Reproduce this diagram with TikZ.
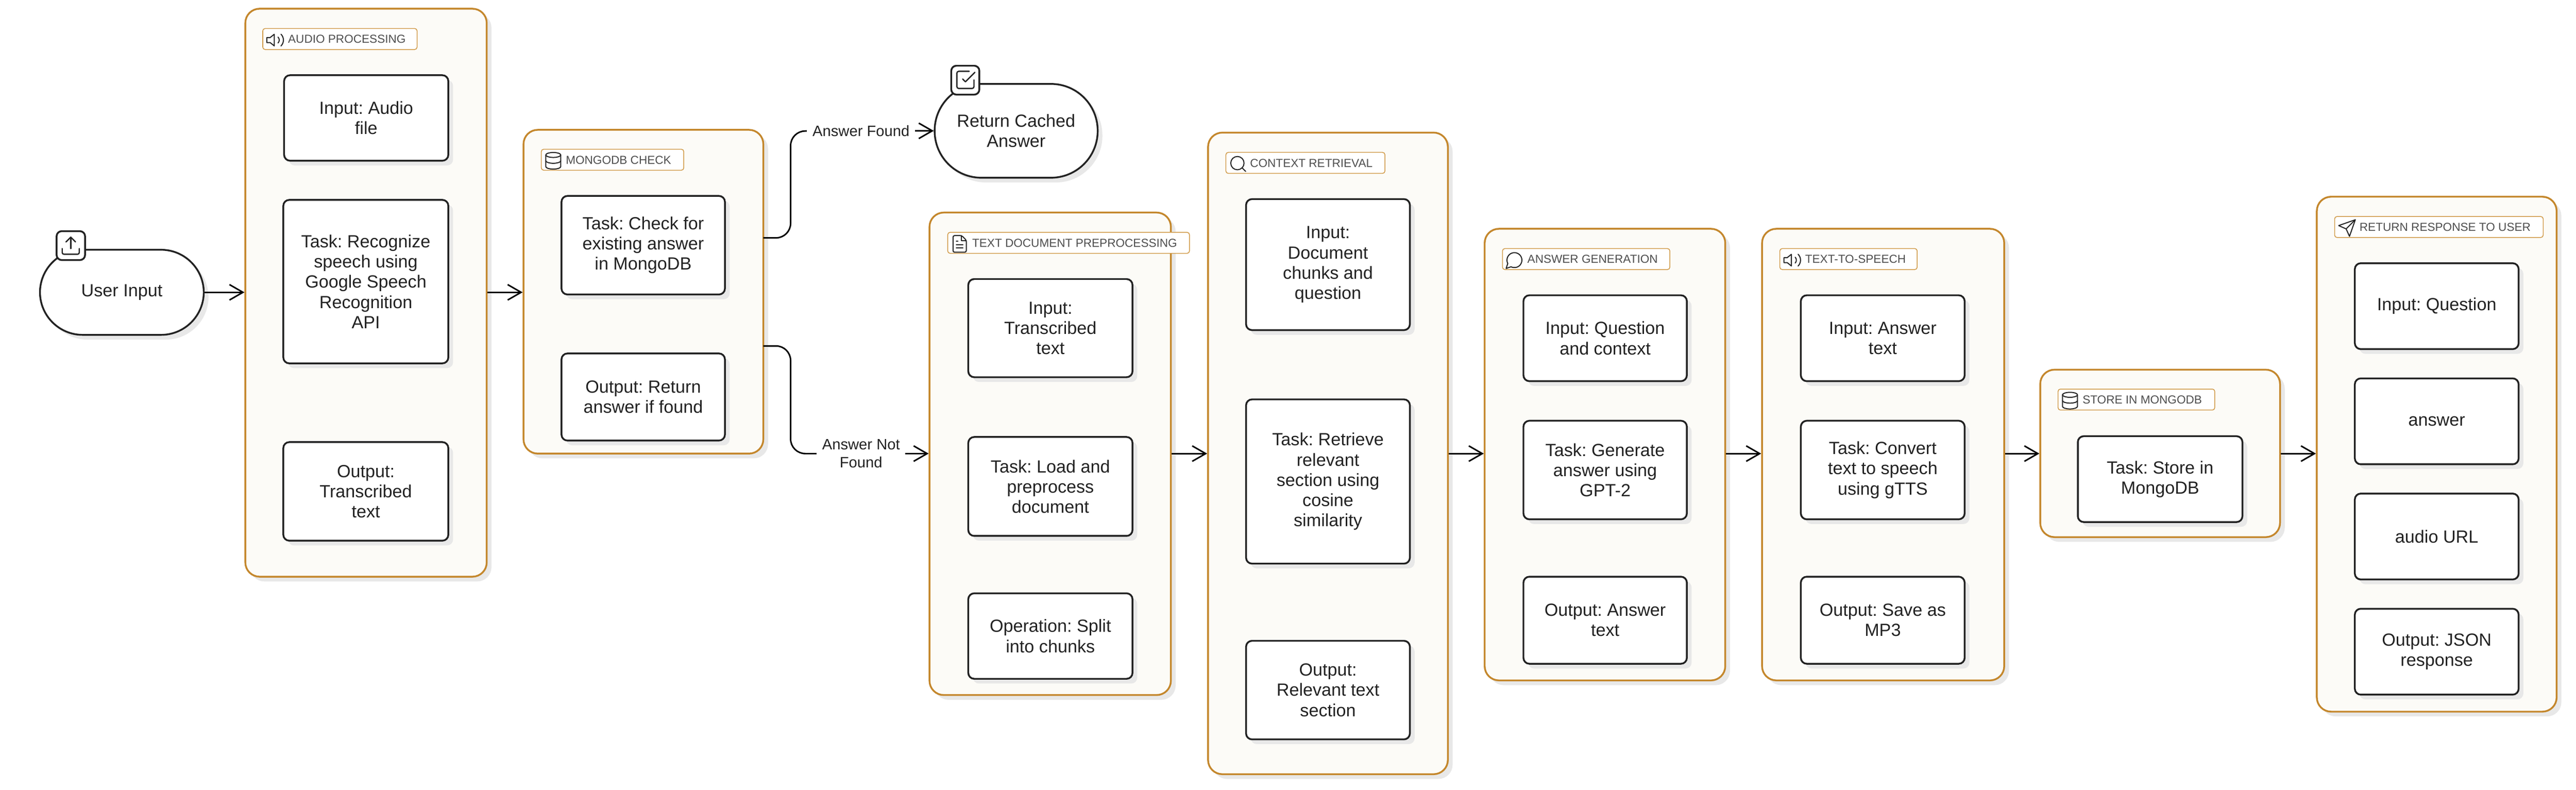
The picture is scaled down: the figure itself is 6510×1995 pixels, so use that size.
\documentclass[tikz,border=0pt]{standalone}
\usepackage{fontspec}
\setmainfont{Liberation Sans}
\usetikzlibrary{arrows.meta,shadows}
\AtBeginDocument{\frenchspacing}
\definecolor{grpfill}{HTML}{FCFBF7}
\definecolor{grpline}{HTML}{C4872C}
\definecolor{badgeline}{HTML}{D09A48}
\definecolor{inkc}{HTML}{222222}
\definecolor{labelc}{HTML}{4D4D4D}
\definecolor{shgrey}{HTML}{E8E8E8}
\tikzset{
  softshadow/.style={drop shadow={shadow xshift=1.2pt,shadow yshift=-1.2pt,fill=shgrey,opacity=1}},
  grp/.style={draw=grpline,line width=.45pt,fill=grpfill,rounded corners=3.6pt,softshadow,inner sep=0pt},
  box/.style={draw=inkc,line width=.45pt,fill=white,rounded corners=1.5pt,softshadow,text=inkc,align=center,inner sep=0pt,
    font=\fontsize{4.45}{5.1}\selectfont},
  stadium/.style={box,rounded corners=#1},
  iconbox/.style={draw=inkc,line width=.45pt,fill=white,rounded corners=1.3pt,inner sep=0pt},
  badge/.style={draw=badgeline,line width=.2pt,fill=white,rounded corners=.6pt,inner sep=0pt},
  badgetext/.style={anchor=west,inner sep=0pt,text=labelc,font=\fontsize{2.94}{3.4}\selectfont},
  edgelabel/.style={fill=white,text=inkc,align=center,inner xsep=1.4pt,inner ysep=.6pt,font=\fontsize{3.8}{4.5}\selectfont},
  conn/.style={draw=black,line width=.38pt,-{Straight Barb[length=3.4pt,width=3.9pt,line width=.38pt]}},
  bi/.style={x=.21pt,y=-.21pt,draw=inkc,line width=.26pt,line join=round,line cap=round},
  ti/.style={x=.24pt,y=-.24pt,draw=inkc,line width=.32pt,line join=round,line cap=round},
}
% style, name, x1, y1, x2, y2, text
\newcommand\nd[7]{\node[#1,minimum width={(#5-#3)*0.1pt},minimum height={(#6-#4)*0.1pt}] (#2) at ({(#3+#5)/2},{(#4+#6)/2}) {#7};}
\newcommand\pathvol{\draw (11,5)--(6,9)--(2,9)--(2,15)--(6,15)--(11,19)--cycle;
  \draw (15.54,8.46) .. controls (17.5,10.4) and (17.5,13.6) .. (15.54,15.53);
  \draw (19.07,4.93) .. controls (23,8.8) and (23,15.2) .. (19.07,19.07);}
\newcommand\pathdb{\draw (12,5) ellipse[x radius=9,y radius=3];
  \draw (3,5)--(3,19) .. controls (3,20.66) and (7,22) .. (12,22) .. controls (17,22) and (21,20.66) .. (21,19)--(21,5);
  \draw (3,12) .. controls (3,13.66) and (7,15) .. (12,15) .. controls (17,15) and (21,13.66) .. (21,12);}
\newcommand\pathfile{\draw[rounded corners=.4pt] (14.5,2)--(4,2)--(4,22)--(20,22)--(20,7.5)--cycle;
  \draw (14,2)--(14,8)--(20,8); \draw (16,13)--(8,13); \draw (16,17)--(8,17); \draw (10,9)--(8,9);}
\newcommand\pathsearch{\draw (11,11) circle[radius=8]; \draw (21,21)--(16.65,16.65);}
\newcommand\pathmsg{\draw (7.9,20) arc[start angle=117.1,end angle=-207.1,radius=9] -- (2,22) -- cycle;}
\newcommand\pathsend{\draw (22,2)--(15,22)--(11,13)--(2,9)--cycle; \draw (22,2)--(11,13);}
\newcommand\pathupload{\draw[rounded corners=.45pt] (21,15)--(21,21)--(3,21)--(3,15);
  \draw (17,8)--(12,3)--(7,8); \draw (12,3)--(12,15);}
\newcommand\pathcheck{\draw (9,11)--(12,14)--(22,4);
  \draw[rounded corners=.45pt] (21,12)--(21,21)--(3,21)--(3,3)--(16,3);}
% kind (bi/ti), icon path macro, x, y of icon's top-left corner
\newcommand\icon[4]{\begin{scope}[shift={(#3,#4)},#1]#2\end{scope}}
\begin{document}
\begin{tikzpicture}[x=0.1pt,y=-0.1pt]
\useasboundingbox (0,0) rectangle (6510,1995);
\fill[white] (0,0) rectangle (6510,1995);
\coordinate (main) at (0,1146);

% start and cached nodes
\nd{stadium=10.8pt}{ui}{101}{631}{515}{846}{User Input}
\nd{iconbox}{uiicon}{143}{584}{215}{657}{}
\icon{ti}{\pathupload}{150}{592}
\nd{stadium=11.8pt}{rc}{2362}{212}{2774}{449}{Return Cached\\Answer}
\nd{iconbox}{rcicon}{2404}{166}{2475}{239}{}
\icon{ti}{\pathcheck}{2411}{173}

% Audio processing
\nd{grp}{g1}{620}{22}{1230}{1457}{}
\nd{badge}{g1b}{664}{72}{1054}{125}{}
\node[badgetext] (g1t) at (726,99) {AUDIO PROCESSING};
\icon{bi}{\pathvol}{670}{76}
\nd{box}{g1x}{718}{190}{1133}{406}{Input: Audio\\file}
\nd{box}{g1y}{716}{505}{1133}{918}{Task: Recognize\\speech using\\Google Speech\\Recognition\\API}
\nd{box}{g1z}{716}{1117}{1133}{1366}{Output:\\Transcribed\\text}

% MongoDB check
\nd{grp}{g2}{1323}{328}{1929}{1146}{}
\nd{badge}{g2b}{1368}{377}{1728}{430}{}
\node[badgetext] (g2t) at (1428,404) {MONGODB CHECK};
\icon{bi}{\pathdb}{1373}{381}
\nd{box}{g2x}{1419}{495}{1832}{744}{Task: Check for\\existing answer\\in MongoDB}
\nd{box}{g2y}{1419}{893}{1832}{1113}{Output: Return\\answer if found}

% Text document preprocessing
\nd{grp}{g3}{2349}{537}{2959}{1756}{}
\nd{badge}{g3b}{2395}{587}{3006}{640}{}
\node[badgetext] (g3t) at (2455,614) {TEXT DOCUMENT PREPROCESSING};
\icon{bi}{\pathfile}{2400}{591}
\nd{box}{g3x}{2447}{705}{2862}{953}{Input:\\Transcribed\\text}
\nd{box}{g3y}{2447}{1104}{2862}{1354}{Task: Load and\\preprocess\\document}
\nd{box}{g3z}{2447}{1499}{2862}{1715}{Operation: Split\\into chunks}

% Context retrieval
\nd{grp}{g4}{3053}{335}{3659}{1956}{}
\nd{badge}{g4b}{3098}{385}{3500}{438}{}
\node[badgetext] (g4t) at (3157,412) {CONTEXT RETRIEVAL};
\icon{bi}{\pathsearch}{3104}{389}
\nd{box}{g4x}{3149}{503}{3563}{834}{Input:\\Document\\chunks and\\question}
\nd{box}{g4y}{3149}{1009}{3563}{1424}{Task: Retrieve\\relevant\\section using\\cosine\\similarity}
\nd{box}{g4z}{3149}{1619}{3563}{1868}{Output:\\Relevant text\\section}

% Answer generation
\nd{grp}{g5}{3752}{578}{4360}{1719}{}
\nd{badge}{g5b}{3797}{628}{4220}{681}{}
\node[badgetext] (g5t) at (3858,655) {ANSWER GENERATION};
\icon{bi}{\pathmsg}{3802}{632}
\nd{box}{g5x}{3850}{746}{4263}{963}{Input: Question\\and context}
\nd{box}{g5y}{3850}{1063}{4263}{1312}{Task: Generate\\answer using\\GPT-2}
\nd{box}{g5z}{3850}{1457}{4263}{1677}{Output: Answer\\text}

% Text-to-speech
\nd{grp}{g6}{4453}{578}{5065}{1719}{}
\nd{badge}{g6b}{4498}{628}{4845}{681}{}
\node[badgetext] (g6t) at (4560,655) {TEXT-TO-SPEECH};
\icon{bi}{\pathvol}{4504}{632}
\nd{box}{g6x}{4551}{746}{4965}{963}{Input: Answer\\text}
\nd{box}{g6y}{4551}{1063}{4965}{1312}{Task: Convert\\text to speech\\using gTTS}
\nd{box}{g6z}{4551}{1457}{4965}{1677}{Output: Save as\\MP3}

% Store in MongoDB
\nd{grp}{g7}{5156}{934}{5762}{1357}{}
\nd{badge}{g7b}{5201}{983}{5597}{1036}{}
\node[badgetext] (g7t) at (5261,1010) {STORE IN MONGODB};
\icon{bi}{\pathdb}{5206}{987}
\nd{box}{g7x}{5251}{1102}{5667}{1319}{Task: Store in\\MongoDB}

% Return response
\nd{grp}{g8}{5855}{497}{6461}{1798}{}
\nd{badge}{g8b}{5900}{547}{6427}{600}{}
\node[badgetext] (g8t) at (5961,574) {RETURN RESPONSE TO USER};
\icon{bi}{\pathsend}{5906}{551}
\nd{box}{g8x}{5951}{665}{6365}{882}{Input: Question}
\nd{box}{g8y}{5951}{956}{6365}{1173}{answer}
\nd{box}{g8z}{5951}{1247}{6365}{1464}{audio URL}
\nd{box}{g8w}{5951}{1538}{6365}{1755}{Output: JSON\\response}

% connectors
\draw[conn] (ui.east) -- (g1.west |- ui.east);
\draw[conn] (g1.east |- ui.east) -- (g2.west |- ui.east);
\coordinate (g2a) at (1929,601);
\coordinate (g2c) at (1929,874);
\coordinate (ja) at (1998,331);
\coordinate (jb) at (1998,1146);
\draw[conn,rounded corners=3.7pt] (g2a) -| (ja) -- (rc.west);
\draw[conn,rounded corners=3.7pt] (g2c) -| (jb) -- (g3.west |- main);
\node[edgelabel] (lfound) at (2176,331) {Answer Found};
\node[edgelabel] (lnot) at (2176,1146) {Answer Not\\Found};
\draw[conn] (g3.east |- main) -- (g4.west |- main);
\draw[conn] (g4.east |- main) -- (g5.west |- main);
\draw[conn] (g5.east |- main) -- (g6.west |- main);
\draw[conn] (g6.east |- main) -- (g7.west |- main);
\draw[conn] (g7.east |- main) -- (g8.west |- main);
\end{tikzpicture}
\end{document}
